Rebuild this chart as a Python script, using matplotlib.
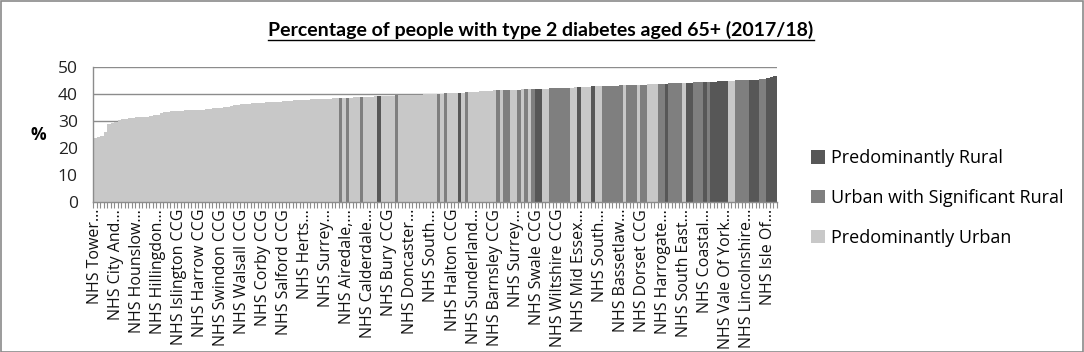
import matplotlib
matplotlib.use("Agg")
import matplotlib.pyplot as plt
from matplotlib.patches import Rectangle, Patch

# ---- data ----
values = [
    23.7, 23.9, 24.6, 25.8, 28.8, 29.3, 29.8, 30.2, 30.6, 30.8,
    31.0, 31.1, 31.3, 31.4, 31.5, 31.6, 31.8, 32.1, 32.4, 32.8,
    33.2, 33.5, 33.6, 33.7, 33.8, 33.8, 33.9, 34.0, 34.0, 34.1,
    34.1, 34.2, 34.3, 34.5, 34.7, 34.8, 34.9, 35.1, 35.3, 35.6,
    35.9, 36.1, 36.2, 36.3, 36.4, 36.5, 36.6, 36.7, 36.8, 36.9,
    36.9, 37.0, 37.1, 37.2, 37.3, 37.4, 37.5, 37.6, 37.7, 37.8,
    37.9, 37.9, 38.0, 38.0, 38.1, 38.2, 38.2, 38.3, 38.4, 38.5,
    38.6, 38.6, 38.7, 38.7, 38.8, 38.8, 38.9, 38.9, 39.0, 39.0,
    39.1, 39.2, 39.3, 39.3, 39.4, 39.4, 39.5, 39.5, 39.6, 39.6,
    39.7, 39.7, 39.8, 39.8, 39.9, 39.9, 40.0, 40.0, 40.0, 40.1,
    40.2, 40.3, 40.3, 40.4, 40.5, 40.5, 40.6, 40.7, 40.8, 40.9,
    41.0, 41.0, 41.1, 41.2, 41.3, 41.3, 41.4, 41.4, 41.5, 41.5,
    41.6, 41.6, 41.7, 41.7, 41.8, 41.8, 41.9, 41.9, 42.0, 42.0,
    42.1, 42.2, 42.2, 42.3, 42.3, 42.4, 42.4, 42.5, 42.5, 42.6,
    42.6, 42.7, 42.8, 42.9, 43.0, 43.0, 43.0, 43.1, 43.1, 43.1,
    43.2, 43.2, 43.3, 43.3, 43.4, 43.4, 43.5, 43.5, 43.6, 43.7,
    43.7, 43.8, 43.8, 43.8, 43.9, 43.9, 43.9, 44.0, 44.0, 44.1,
    44.2, 44.3, 44.4, 44.4, 44.5, 44.5, 44.6, 44.6, 44.7, 44.7,
    44.8, 44.8, 44.9, 45.0, 45.0, 45.0, 45.1, 45.2, 45.3, 45.3,
    45.4, 45.7, 45.9, 46.3, 46.6,
]

# area type per bar: U = Predominantly Urban, S = Urban with Significant Rural, R = Predominantly Rural
area_type = list(
    "U" * 70 + "S" + "U" + "S" + "UUU" + "S" + "UUUU" + "R" + "UUUU" + "S"
    + "U" * 11 + "S" + "U" + "S" + "UUU" + "R" + "U" + "S" + "U" * 8 + "S" + "U"
    + "SS" + "UU" + "S" + "U" + "S" + "U" + "S" + "RR" + "UU" + "SSSSSS" + "UU"
    + "R" + "UUU" + "R" + "UU" + "SSSSSS" + "U" + "SSS" + "U" + "SS" + "UUU"
    + "SS" + "R" + "SSSS" + "U" + "RR" + "SSS" + "R" + "S" + "RRRRR" + "UU"
    + "SSSS" + "RRR" + "SS" + "RRR"
)

tick_labels = [
    "NHS Tower...", "NHS City And...", "NHS Hounslow...", "NHS Hillingdon...",
    "NHS Islington CCG", "NHS Harrow CCG", "NHS Swindon CCG", "NHS Walsall CCG",
    "NHS Corby CCG", "NHS Salford CCG", "NHS Herts...", "NHS Surrey...",
    "NHS Airedale,...", "NHS Calderdale...", "NHS Bury CCG", "NHS Doncaster...",
    "NHS South...", "NHS Halton CCG", "NHS Sunderland...", "NHS Barnsley CCG",
    "NHS Surrey...", "NHS Swale CCG", "NHS Wiltshire CCG", "NHS Mid Essex...",
    "NHS South...", "NHS Bassetlaw...", "NHS Dorset CCG", "NHS Harrogate...",
    "NHS South East...", "NHS Coastal...", "NHS Vale Of York...", "NHS Lincolnshire...",
    "NHS Isle Of...",
]
label_every = 6

legend_names = ["Predominantly Rural", "Urban with Significant Rural", "Predominantly Urban"]
type_colors = {"R": "#575757", "S": "#7f7f7f", "U": "#c8c8c8"}
legend_codes = ["R", "S", "U"]

title = "Percentage of people with type 2 diabetes aged 65+ (2017/18)"

# ---- figure ----
font = ["Open Sans", "DejaVu Sans"]
plt.rcParams["font.family"] = font

W, H = 1084, 352
fig = plt.figure(figsize=(W / 100, H / 100), dpi=100)
fig.patches.append(Rectangle((0.5 / W, 0.5 / H), 1 - 1.5 / W, 1 - 1.5 / H,
                             transform=fig.transFigure, fill=False,
                             edgecolor="#8a8a8a", linewidth=1.2))

L, R, T, B = 93, 777, 67, 202
ax = fig.add_axes([L / W, 1 - B / H, (R - L) / W, (B - T) / H])

n = len(values)
xs = list(range(n))
cols = [type_colors[t] for t in area_type[:n]]
ax.bar(xs, values, width=1.0, color=cols, linewidth=0, zorder=2)

ax.set_xlim(-0.5, n - 0.5)
ax.set_ylim(0, 50)
ax.set_yticks([0, 10, 20, 30, 40, 50])
ax.tick_params(axis="y", length=0, labelsize=12.5, pad=11, labelcolor="#222222")
ax.yaxis.grid(True, color="#8c8c8c", linewidth=1.0, zorder=0)
ax.set_axisbelow(True)

pos = list(range(0, n, label_every))[:len(tick_labels)]
ax.set_xticks(pos)
ax.set_xticklabels(tick_labels, rotation=90, fontsize=11.5, color="#111111")
ax.tick_params(axis="x", which="major", length=0, pad=5)
ax.set_xticks([i - 0.5 for i in range(n + 1)], minor=True)
ax.tick_params(axis="x", which="minor", length=4, width=0.8, color="#8c8c8c")

for s in ["top", "right"]:
    ax.spines[s].set_visible(False)
for s in ["left", "bottom"]:
    ax.spines[s].set_color("#8c8c8c")
    ax.spines[s].set_linewidth(1.0)

fig.text(38 / W, 1 - 135 / H, "%", fontsize=12.5, fontweight="bold",
         ha="center", va="center")

# title sized to span the same width as in the reference, underlined
renderer = fig.canvas.get_renderer()
tsize = 14.0
t = fig.text(541 / W, 1 - 30 / H, title, fontsize=tsize, fontweight="bold",
             ha="center", va="center", family=["Lato", "DejaVu Sans"])
for _ in range(4):
    wpx = t.get_window_extent(renderer).width
    tsize *= 541.0 / wpx
    t.set_fontsize(tsize)
bb = t.get_window_extent(renderer)
fig.add_artist(plt.Line2D([bb.x0 / W, bb.x1 / W], [1 - 40 / H, 1 - 40 / H],
                          color="black", linewidth=1.0, transform=fig.transFigure))

handles = [Patch(facecolor=type_colors[c], edgecolor="none") for c in legend_codes]
fig.legend(handles, legend_names, loc="center left",
           bbox_to_anchor=(795 / W, 1 - 198 / H), frameon=False,
           fontsize=13, handlelength=0.75, handleheight=0.75,
           handletextpad=0.35, labelspacing=1.2)

fig.savefig("out.png", dpi=100)
